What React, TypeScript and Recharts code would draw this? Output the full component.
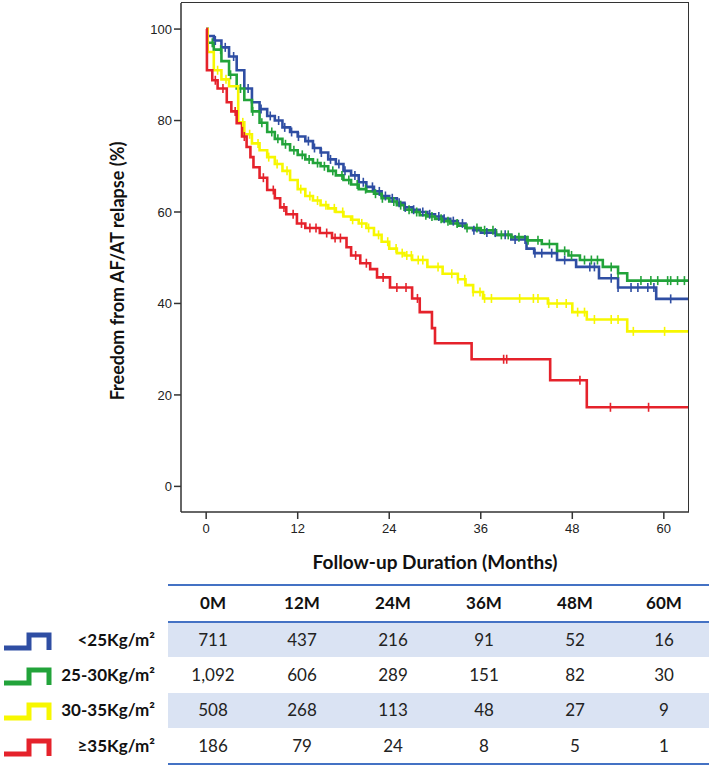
import { ComposedChart, Line, XAxis, YAxis } from "recharts";

// follow-up months on the x axis, % free from relapse on the y axis
const monthTicks = [0, 12, 24, 36, 48, 60];
const pctTicks = [0, 20, 40, 60, 80, 100];
const endMonth = 63.3;

const groupLabels = ["<25Kg/m²", "25-30Kg/m²", "30-35Kg/m²", "≥35Kg/m²"];
const groupColors = ["#2f4ea3", "#22a33a", "#f7f700", "#e5222b"];

// Kaplan-Meier steps: at time t the curve drops to value s
const blueT = [0, 0.2, 1, 2, 3, 4, 5, 6, 7, 8, 9, 10, 11, 12, 13, 14, 15, 16, 17, 18, 19, 20, 21, 22, 23, 24, 25, 26, 27, 28, 29, 30, 31, 32, 33, 34, 35, 36, 38, 40, 42, 43, 46, 48.5, 51.5, 54, 59];
const blueS = [100, 98.5, 97.5, 96, 94, 91, 87, 84, 82.5, 81, 80, 78.5, 77.5, 76.5, 75.5, 74, 73, 71.5, 70.5, 69, 68, 66.5, 65.5, 64.5, 63.5, 63, 62, 61, 60.5, 60, 59.5, 59, 58.5, 58, 57.5, 56.5, 56, 55.5, 55, 54, 52, 51, 49.5, 48, 45.5, 43.5, 41];

const greenT = [0, 0.2, 1, 2, 3, 4, 5, 6, 7, 8, 9, 10, 11, 12, 13, 14, 15, 16, 17, 18, 19, 20, 21, 22, 23, 24, 25, 26, 27, 28, 29, 30, 31, 32, 33, 34, 36, 38, 40, 42, 44, 46, 47.5, 49, 52, 54, 55.2];
const greenS = [100, 97, 95.5, 93, 90, 87, 84.5, 82, 79.5, 77.5, 76, 74.8, 73.5, 72.5, 71.5, 70.7, 70, 69, 68, 67, 66, 65, 64.5, 64, 63, 62.3, 61.5, 60.5, 60, 59.3, 59, 58.5, 58, 57.5, 57, 56.5, 56, 55, 54.5, 53.8, 53, 51.5, 50.5, 49.5, 48, 46.6, 45];

const yellowT = [0, 0.2, 1, 2, 3, 4.2, 5, 6, 7, 8, 9, 10, 11, 12, 13, 14, 15, 16, 17, 18, 19, 20, 21, 22, 23, 24, 25, 26, 27, 29, 31, 33, 34, 35, 36.3, 44.8, 48, 49.9, 55.2];
const yellowS = [100, 95, 91, 89, 87.5, 79.6, 77, 75, 73.5, 72, 70.5, 69, 67, 65, 63.5, 62.5, 61.5, 60.8, 60, 59, 58.3, 57.5, 56.5, 55, 53.5, 52, 51, 50.5, 49.5, 48, 46.5, 45.3, 44, 42.5, 41.1, 40, 38.1, 36.5, 33.9];

const redT = [0, 0.1, 0.8, 1.5, 2.7, 3.3, 4, 4.7, 5.3, 5.8, 6.2, 7, 8, 9, 9.7, 10.5, 11.9, 13, 14.9, 16.5, 18.4, 19, 20.2, 21.5, 22.4, 24.1, 27, 28, 29.6, 30, 34.8, 45.1, 49.9];
const redS = [100, 91, 88.8, 87, 84, 82, 79.4, 76.5, 74.2, 72, 69.8, 67.5, 64.8, 63, 61, 59.5, 57.5, 56.5, 55.4, 54.3, 52.3, 50.5, 48.8, 47.5, 45.7, 43.5, 41.1, 38.1, 34.6, 31.3, 27.8, 23.2, 17.3];

// censored cases (tick marks)
const blueCens = [1.2, 2.5, 3.6, 5.5, 7.2, 8.4, 9.5, 10.3, 11.2, 12.1, 13.4, 14.2, 15.1, 16.3, 17.4, 18.2, 19.5, 20.6, 21.8, 22.7, 23.5, 24.4, 25.3, 26.1, 27.2, 28.4, 29.3, 30.5, 31.2, 32.4, 33.6, 35.1, 36.8, 37.9, 39.2, 40.5, 41.8, 43.1, 44, 45.3, 47, 50.3, 50.9, 53.1, 54, 55.7, 56.6, 57.9, 58.7, 60.9];
const greenCens = [0.8, 1.9, 3.2, 4.5, 6.1, 7.3, 8.6, 9.4, 10.4, 11.5, 12.6, 13.5, 14.6, 15.5, 16.6, 17.8, 18.7, 19.8, 20.9, 22.2, 23.1, 24.6, 25.5, 26.6, 27.6, 28.8, 29.6, 30.8, 31.7, 32.9, 34.2, 35.5, 36.5, 37.6, 38.7, 39.6, 41, 42.2, 43.5, 45, 47, 47.9, 49.6, 50.5, 51.3, 53.1, 54, 57, 58.3, 59.2, 60.5, 60.9, 61.8, 62.7];
const yellowCens = [1.5, 2.6, 4.8, 5.7, 6.8, 8.2, 9.3, 10.6, 12.4, 13.6, 14.6, 15.7, 16.8, 17.9, 19.2, 20.4, 21.3, 22.6, 23.8, 24.9, 25.7, 26.3, 26.9, 27.8, 28.4, 30.4, 32.2, 33, 33.9, 35, 35.9, 36.5, 37.4, 41.1, 42.9, 43.5, 44.9, 46, 47.2, 48.7, 49.6, 50.9, 53.1, 54, 56, 60.1];
const redCens = [1.2, 2.2, 3.8, 5, 7.5, 8.8, 10.2, 11.4, 12.5, 13.6, 14.4, 15.8, 16.9, 17.6, 19.6, 21, 23.2, 25, 26.2, 27.7, 39, 39.4, 49, 53, 58];

// numbers at risk
const riskCols = ["0M", "12M", "24M", "36M", "48M", "60M"];
const riskBlue = ["711", "437", "216", "91", "52", "16"];
const riskGreen = ["1,092", "606", "289", "151", "82", "30"];
const riskYellow = ["508", "268", "113", "48", "27", "9"];
const riskRed = ["186", "79", "24", "8", "5", "1"];

const toSteps = (ts: number[], ss: number[]) => [
  ...ts.map((t, i) => ({ t, s: ss[i] })),
  { t: endMonth, s: ss[ss.length - 1] },
];

const survAt = (ts: number[], ss: number[], t: number) => {
  let v = ss[0];
  ts.forEach((x, i) => {
    if (x <= t) v = ss[i];
  });
  return v;
};

const toCens = (ts: number[], ss: number[], cens: number[]) =>
  cens.map((t) => ({ t, s: survAt(ts, ss, t) }));

const series = [
  { steps: toSteps(blueT, blueS), cens: toCens(blueT, blueS, blueCens), color: groupColors[0] },
  { steps: toSteps(greenT, greenS), cens: toCens(greenT, greenS, greenCens), color: groupColors[1] },
  { steps: toSteps(yellowT, yellowS), cens: toCens(yellowT, yellowS, yellowCens), color: groupColors[2] },
  { steps: toSteps(redT, redS), cens: toCens(redT, redS, redCens), color: groupColors[3] },
];

const riskRows = [riskBlue, riskGreen, riskYellow, riskRed];

const tickFont = { fill: "#222", fontSize: 13, fontFamily: "Liberation Sans, Arial, sans-serif" };
const titleFont = "Lato, 'Open Sans', sans-serif";

const censorDot = (color: string) => (props: any) => {
  const { cx, cy, index } = props;
  if (cx == null || cy == null) return <g key={`c-${index}`} />;
  return (
    <line
      key={`c-${index}`}
      x1={cx}
      x2={cx}
      y1={cy - 4.5}
      y2={cy + 4.5}
      stroke={color}
      strokeWidth={1.6}
    />
  );
};

const colX = [213, 302, 393, 484, 575, 664];
const rowTop = [622, 657, 692, 728];
const rowH = [35, 35, 36, 35];

const StepIcon = ({ color }: { color: string }) => (
  <svg width={52} height={22} style={{ display: "block" }}>
    <path d="M2 17 L27 17 L27 4 L47 4 L47 19" fill="none" stroke={color} strokeWidth={5} strokeLinejoin="miter" />
  </svg>
);

const App = () => {
  return (
    <div style={{ position: "absolute", left: 0, top: 0, width: 709, height: 769, background: "#fff" }}>
      <ComposedChart width={709} height={580} margin={{ top: 3, right: 20, bottom: 8, left: 121 }}>
        <XAxis
          type="number"
          dataKey="t"
          domain={[-3.3, endMonth]}
          ticks={monthTicks}
          allowDataOverflow
          height={60}
          tick={tickFont}
          tickSize={7}
          tickMargin={5}
          stroke="#333"
          strokeWidth={1.5}
        />
        <YAxis
          type="number"
          domain={[-5.6, 105.7]}
          ticks={pctTicks}
          allowDataOverflow
          width={60}
          tick={tickFont}
          tickSize={7}
          tickMargin={2}
          stroke="#333"
          strokeWidth={1.5}
        />
        {series.map((g, i) => (
          <Line
            key={`l-${i}`}
            data={g.steps}
            dataKey="s"
            type="stepAfter"
            stroke={g.color}
            strokeWidth={2.6}
            dot={false}
            activeDot={false}
            isAnimationActive={false}
          />
        ))}
        {series.map((g, i) => (
          <Line
            key={`c-${i}`}
            data={g.cens}
            dataKey="s"
            stroke="none"
            dot={censorDot(g.color)}
            activeDot={false}
            isAnimationActive={false}
          />
        ))}
      </ComposedChart>

      {/* top and right edges of the plot frame */}
      <div
        style={{
          position: "absolute",
          left: 181,
          top: 2,
          width: 507,
          height: 509,
          borderTop: "1.5px solid #333",
          borderRight: "1.5px solid #333",
          pointerEvents: "none",
        }}
      />

      <div
        style={{
          position: "absolute",
          left: 117 - 160,
          top: 271 - 12,
          width: 320,
          height: 24,
          lineHeight: "24px",
          textAlign: "center",
          transform: "rotate(-90deg)",
          fontFamily: titleFont,
          fontWeight: 700,
          fontSize: 18,
          color: "#111",
        }}
      >
        Freedom from AF/AT relapse (%)
      </div>
      <div
        style={{
          position: "absolute",
          left: 435 - 200,
          top: 550,
          width: 400,
          lineHeight: "24px",
          textAlign: "center",
          fontFamily: titleFont,
          fontWeight: 700,
          fontSize: 19,
          color: "#111",
        }}
      >
        Follow-up Duration (Months)
      </div>

      {/* numbers at risk */}
      <div style={{ position: "absolute", left: 168, top: 584, width: 541, height: 2, background: "#4472c4" }} />
      <div style={{ position: "absolute", left: 168, top: 621, width: 541, height: 1.5, background: "#4472c4" }} />
      <div style={{ position: "absolute", left: 168, top: 763, width: 541, height: 2, background: "#4472c4" }} />
      {riskCols.map((c, j) => (
        <div
          key={c}
          style={{
            position: "absolute",
            left: colX[j] - 40,
            top: 591,
            width: 80,
            lineHeight: "24px",
            textAlign: "center",
            fontFamily: titleFont,
            fontWeight: 700,
            fontSize: 17,
            color: "#111",
          }}
        >
          {c}
        </div>
      ))}
      {riskRows.map((row, r) => (
        <div key={`r-${r}`}>
          {r % 2 === 0 && (
            <div
              style={{
                position: "absolute",
                left: 168,
                top: rowTop[r] + 1,
                width: 541,
                height: rowH[r] - 1,
                background: "#dae3f3",
              }}
            />
          )}
          <div style={{ position: "absolute", left: 2, top: rowTop[r] + 9 }}>
            <StepIcon color={groupColors[r]} />
          </div>
          <div
            style={{
              position: "absolute",
              left: 40,
              top: rowTop[r] + (rowH[r] - 24) / 2,
              width: 115,
              lineHeight: "24px",
              textAlign: "right",
              fontFamily: titleFont,
              fontWeight: 700,
              fontSize: 17,
              color: "#111",
            }}
          >
            {groupLabels[r]}
          </div>
          {row.map((v, j) => (
            <div
              key={`v-${r}-${j}`}
              style={{
                position: "absolute",
                left: colX[j] - 40,
                top: rowTop[r] + (rowH[r] - 24) / 2,
                width: 80,
                lineHeight: "24px",
                textAlign: "center",
                fontFamily: titleFont,
                fontSize: 17,
                color: "#222",
              }}
            >
              {v}
            </div>
          ))}
        </div>
      ))}
    </div>
  );
};

export default App;
